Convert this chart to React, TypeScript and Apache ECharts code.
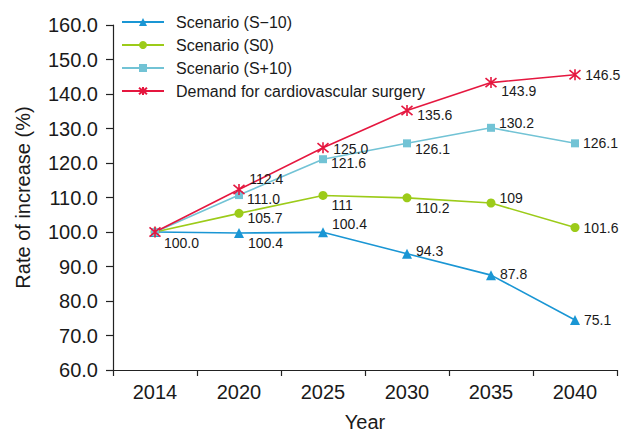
import React, { useEffect, useRef } from "react";
import * as echarts from "echarts";

const years = ["2014", "2020", "2025", "2030", "2035", "2040"];
const sMinus10 = [100.0, 99.7, 99.9, 93.7, 87.5, 74.5];
const s0 = [100.0, 105.4, 110.6, 109.9, 108.4, 101.3];
const sPlus10 = [100.0, 110.7, 121.1, 125.7, 130.2, 125.7];
const demand = [100.0, 112.3, 124.4, 135.2, 143.3, 145.6];

const sMinus10Labels = ["100.0", "100.4", "100.4", "94.3", "87.8", "75.1"];
const s0Labels = ["", "105.7", "111", "110.2", "109", "101.6"];
const sPlus10Labels = ["", "111.0", "121.6", "126.1", "130.2", "126.1"];
const demandLabels = ["", "112.4", "125.0", "135.6", "143.9", "146.5"];

// label vertical offsets (layout only)
const sMinus10Dy = [11, 10, -8, -3, -1, 0];
const s0Dy = [0, 5, 10, 10, -5, 0];
const sPlus10Dy = [0, 4, 4, 6, -5, 0];
const demandDy = [0, -11, 1, 4, 8, 0];

const C_BLUE = "#1a96d4";
const C_GREEN = "#9ccb19";
const C_LIGHT = "#72c3d5";
const C_RED = "#e5173f";

const STAR = "path://M0,0L10,10M10,0L0,10M5,-1L5,11";

function mkData(vals: number[], labels: string[], dys: number[]) {
  return vals.map((v, i) => ({
    value: v,
    label: {
      show: labels[i] !== "",
      formatter: labels[i],
      position: "right",
      distance: 4,
      offset: [0, dys[i]],
    },
  }));
}

export default function App() {
  const ref = useRef<HTMLDivElement>(null);
  useEffect(() => {
    if (!ref.current) return;
    const chart = echarts.init(ref.current, undefined, { renderer: "svg" });
    const font = "Liberation Sans, Arial, sans-serif";
    const labelStyle = { color: "#1a1a1a", fontSize: 14, fontFamily: font };
    chart.setOption({
      animation: false,
      backgroundColor: "#ffffff",
      textStyle: { fontFamily: font },
      grid: { left: 113, right: 4, top: 25, bottom: 59, containLabel: false },
      legend: {
        orient: "vertical",
        left: 116,
        top: 9,
        itemWidth: 42,
        itemHeight: 10,
        itemGap: 7,
        textStyle: { fontSize: 16, color: "#1a1a1a", fontFamily: font, padding: [0, 0, 0, 7] },
        data: [
          "Scenario (S\u221210)",
          "Scenario (S0)",
          "Scenario (S+10)",
          "Demand for cardiovascular surgery",
        ],
      },
      xAxis: {
        type: "category",
        data: years,
        boundaryGap: true,
        name: "Year",
        nameLocation: "middle",
        nameGap: 42,
        nameTextStyle: { fontSize: 20, color: "#1a1a1a", fontFamily: font },
        axisLine: { show: true, lineStyle: { color: "#222", width: 1.2 } },
        axisTick: { show: true, length: 6, alignWithLabel: false, lineStyle: { color: "#222", width: 1.2 } },
        axisLabel: { fontSize: 20, color: "#1a1a1a", margin: 12, fontFamily: font },
        splitLine: { show: false },
      },
      yAxis: {
        type: "value",
        min: 60,
        max: 160,
        interval: 10,
        name: "Rate of increase (%)",
        nameLocation: "middle",
        nameGap: 80,
        nameTextStyle: { fontSize: 20, color: "#1a1a1a", fontFamily: font },
        axisLine: { show: true, lineStyle: { color: "#222", width: 1.2 } },
        axisTick: { show: true, length: 7, lineStyle: { color: "#222", width: 1.2 } },
        axisLabel: {
          fontSize: 20,
          color: "#1a1a1a",
          margin: 15,
          fontFamily: font,
          formatter: (v: number) => v.toFixed(1),
        },
        splitLine: { show: false },
      },
      series: [
        {
          name: "Scenario (S\u221210)",
          type: "line",
          data: mkData(sMinus10, sMinus10Labels, sMinus10Dy),
          symbol: "triangle",
          symbolSize: 10,
          lineStyle: { color: C_BLUE, width: 1.6 },
          itemStyle: { color: C_BLUE },
          label: labelStyle,
        },
        {
          name: "Scenario (S0)",
          type: "line",
          data: mkData(s0, s0Labels, s0Dy),
          symbol: "circle",
          symbolSize: 9,
          lineStyle: { color: C_GREEN, width: 1.6 },
          itemStyle: { color: C_GREEN },
          label: labelStyle,
        },
        {
          name: "Scenario (S+10)",
          type: "line",
          data: mkData(sPlus10, sPlus10Labels, sPlus10Dy),
          symbol: "rect",
          symbolSize: 8,
          lineStyle: { color: C_LIGHT, width: 1.6 },
          itemStyle: { color: C_LIGHT },
          label: labelStyle,
        },
        {
          name: "Demand for cardiovascular surgery",
          type: "line",
          data: mkData(demand, demandLabels, demandDy),
          symbol: STAR,
          symbolSize: 11,
          lineStyle: { color: C_RED, width: 1.6 },
          itemStyle: { color: C_RED, borderColor: C_RED, borderWidth: 1.6 },
          label: labelStyle,
        },
      ],
    });
    return () => chart.dispose();
  }, []);
  return <div ref={ref} style={{ width: 621, height: 437, position: "absolute", left: 0, top: 0 }} />;
}
